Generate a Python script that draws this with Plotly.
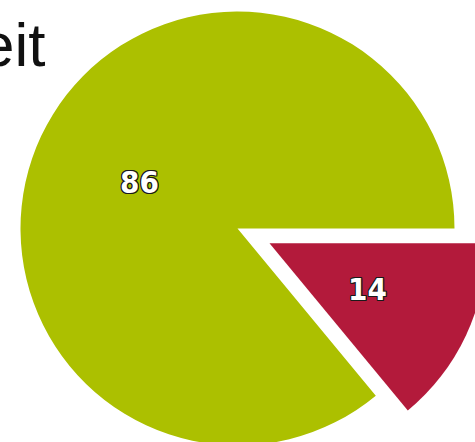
import math
import plotly.graph_objects as go

# ---- data ----
labels = ["Anteil A", "Anteil B"]
values = [86, 14]
colors = ["#acc000", "#b31a3b"]
title_text = "Arbeitszeit"

W, H = 490, 462
R = 217.0
cx, cy = 237.5, 228.5      # centre of main pie (px)
shift = (32.0, 14.8)       # explode offset of small slice (px)


def dom(cxp, cyp, r):
    return dict(x=[(cxp - r) / W, (cxp + r) / W],
                y=[1 - (cyp + r) / H, 1 - (cyp - r) / H])


transparent = "rgba(0,0,0,0)"
outline = ("-1px -1px 0 #1a1a1a, 1px -1px 0 #1a1a1a, -1px 1px 0 #1a1a1a, 1px 1px 0 #1a1a1a, "
           "0 1px 0 #1a1a1a, 0 -1px 0 #1a1a1a, 1px 0 0 #1a1a1a, -1px 0 0 #1a1a1a")
lfont = dict(color="white", size=31, family="DejaVu Sans Condensed, sans-serif",
             shadow=outline, weight="bold")

total = sum(values)
# first slice starts so that the small slice ends exactly at 3 o'clock (clockwise drawing)
rotation = 90 + 360.0 * values[-1] / total

fig = go.Figure()
centres = [(cx, cy), (cx + shift[0], cy + shift[1])]
for i in range(len(values)):
    cols = [colors[j] if j == i else transparent for j in range(len(values))]
    fig.add_trace(go.Pie(
        labels=labels, values=values, sort=False, direction="clockwise", rotation=rotation,
        marker=dict(colors=cols, line=dict(width=0)),
        textinfo="none", domain=dom(centres[i][0], centres[i][1], R),
        hoverinfo="skip", showlegend=False,
    ))

# value labels placed at the mid-angle of each slice (computed from the values);
# angles measured counter-clockwise from 3 o'clock on screen
angles = []
a0 = 0.0
for v in values:
    span = 360.0 * v / total
    angles.append(a0 + span / 2)
    a0 += span
for i, v in enumerate(values):
    ang = math.radians(angles[i])
    px = centres[i][0] + 0.5 * R * math.cos(ang)
    py = centres[i][1] - 0.5 * R * math.sin(ang)
    fig.add_annotation(text=str(v), xref="paper", yref="paper", x=px / W, y=1 - py / H,
                       xanchor="center", yanchor="middle", showarrow=False, font=lfont)

fig.add_annotation(text=title_text, xref="paper", yref="paper", x=47 / W, y=1 - 44 / H,
                   xanchor="right", yanchor="middle", showarrow=False,
                   font=dict(family="Liberation Sans, Arial, sans-serif", size=62, color="#111111"))

fig.update_layout(width=W, height=H, margin=dict(l=0, r=0, t=0, b=0),
                  paper_bgcolor="white", plot_bgcolor="white", showlegend=False)

fig.write_html("out.html", config={"displayModeBar": False},
               post_script="document.body.style.margin='0';document.body.style.overflow='hidden';"
                           "document.documentElement.style.overflow='hidden';")
